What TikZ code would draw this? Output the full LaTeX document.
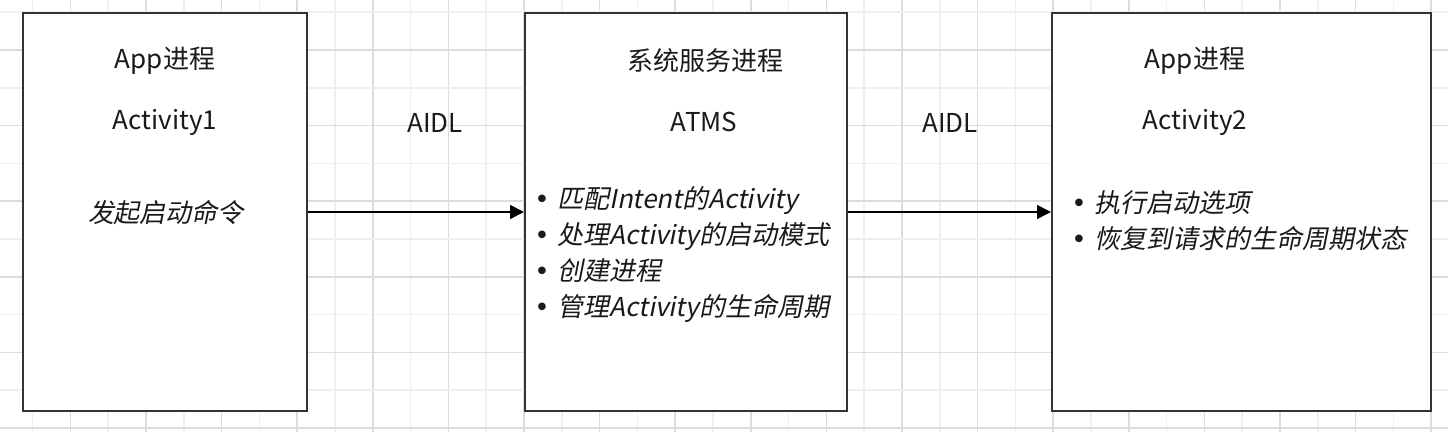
\documentclass[tikz,border=0pt]{standalone}
\usepackage{fontspec}
\setmainfont{Noto Sans CJK SC}
\newfontfamily\slantfont{Noto Sans CJK SC}[FakeSlant=0.2]
\newfontfamily\bulletfont{DejaVu Sans}
\usetikzlibrary{positioning,arrows.meta}
\definecolor{gridlight}{HTML}{EFEFEF}
\definecolor{griddark}{HTML}{DCDCDC}
\definecolor{boxline}{HTML}{333333}
\definecolor{ink}{HTML}{1A1A1A}
\newcommand{\blt}[1]{\makebox[11.5pt][l]{\bulletfont •}{\slantfont #1}}

\begin{document}
\begin{tikzpicture}[
  x=0.5pt, y=-0.5pt,
  every node/.style={font=\fontsize{13}{18}\selectfont, text=ink},
  proc/.style={draw=boxline, line width=1pt, fill=white,
               minimum height=199pt, inner sep=0pt},
  title/.style={inner sep=0pt},
  items/.style={align=left, inner sep=0pt, anchor=west},
  flow/.style={-{Triangle[length=7pt, width=7pt]}, line width=0.75pt, black},
]
\useasboundingbox (0,0) rectangle (1448,432);

% ---- background grid -------------------------------------------------
\foreach \k in {0,...,37} {
  \pgfmathsetmacro{\gx}{32.6+37.8*\k}
  \ifodd\k \def\gc{griddark}\else \def\gc{gridlight}\fi
  \draw[\gc, line width=0.75pt] (\gx,0) -- (\gx,432);
}
\foreach \k in {0,...,11} {
  \pgfmathsetmacro{\gy}{12.2+37.8*\k}
  \ifodd\k \def\gc{griddark}\else \def\gc{gridlight}\fi
  \draw[\gc, line width=0.75pt] (0,\gy) -- (1448,\gy);
}

% ---- three process boxes ---------------------------------------------
\node[proc, minimum width=142pt]   (app1) at (165,212)    {};
\node[proc, minimum width=161pt]   (sys)  at (686,212)    {};
\node[proc, minimum width=189.5pt] (app2) at (1241.5,212) {};

% ---- box texts -------------------------------------------------------
\node[title] (app1name) at (165,61)  {App进程};
\node[title] (act1)     at (165,122) {Activity1};
\node[title] (cmd)      at (166,213) {\slantfont 发起启动命令};

\node[title] (sysname)  at (705,61)  {系统服务进程};
\node[title] (atms)     at (704,122) {ATMS};
\node[items] (sysitems) at (534,255) {\blt{匹配Intent的Activity}\\
                                      \blt{处理Activity的启动模式}\\
                                      \blt{创建进程}\\
                                      \blt{管理Activity的生命周期}};

\node[title] (app2name) at (1195,61)  {App进程};
\node[title] (act2)     at (1195,122) {Activity2};
\node[items] (app2items) at (1071,221) {\blt{执行启动选项}\\
                                        \blt{恢复到请求的生命周期状态}};

% ---- AIDL calls ------------------------------------------------------
\draw[flow] (app1) -- (sys);
\draw[flow] (sys) -- (app2);
\node[title] (aidl1) at (435,123) {AIDL};
\node[title] (aidl2) at (950,123) {AIDL};

\end{tikzpicture}
\end{document}
